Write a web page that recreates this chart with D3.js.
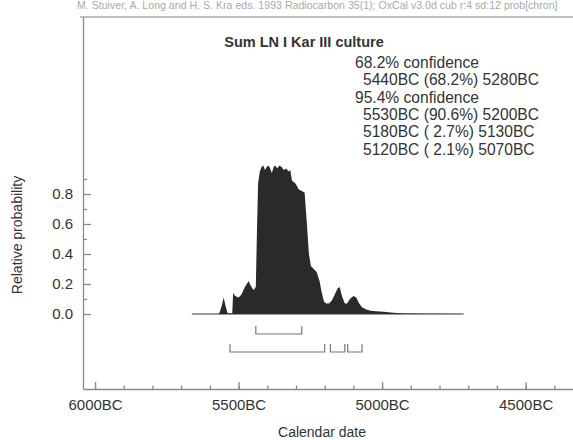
<!DOCTYPE html>
<html>
<head>
<meta charset="utf-8">
<script src="https://cdn.jsdelivr.net/npm/d3@7"></script>
<style>
  body { margin: 0; background: #fff; }
  text { font-family: "Liberation Sans", Arial, sans-serif; fill: #333; }
</style>
</head>
<body>
<div id="chart"></div>
<script>
// calendar years BC and relative probability of the summed distribution
var years = [5663, 5570, 5566, 5558, 5552, 5545, 5538, 5522, 5519, 5512, 5500, 5490, 5478, 5465, 5458,
  5448, 5440, 5436, 5432, 5426, 5420, 5414, 5408, 5402, 5396, 5390, 5384, 5378, 5372, 5365, 5358,
  5350, 5342, 5334, 5326, 5320, 5314, 5308, 5302, 5296, 5290, 5280, 5270, 5262, 5255, 5248, 5238,
  5228, 5218, 5210, 5202, 5194, 5185, 5175, 5165, 5155, 5148, 5140, 5130, 5122, 5112, 5100, 5090,
  5080, 5070, 5055, 5040, 5020, 4995, 4970, 4948, 4920, 4890, 4850, 4800, 4716];
var prob = [0, 0, 0.01, 0.06, 0.11, 0.05, 0.005, 0.005, 0.14, 0.12, 0.11, 0.13, 0.18, 0.22, 0.19,
  0.16, 0.18, 0.55, 0.87, 0.95, 0.98, 0.99, 0.96, 0.98, 0.99, 0.97, 0.94, 0.98, 0.99, 0.97, 0.99,
  0.98, 0.96, 0.97, 0.95, 0.96, 0.89, 0.88, 0.87, 0.85, 0.83, 0.82, 0.81, 0.6, 0.4, 0.32, 0.30,
  0.28, 0.22, 0.14, 0.08, 0.07, 0.07, 0.09, 0.13, 0.17, 0.18, 0.12, 0.07, 0.07, 0.10, 0.12, 0.11,
  0.07, 0.045, 0.03, 0.022, 0.018, 0.015, 0.01, 0.007, 0.004, 0.003, 0.002, 0.001, 0];

var xTicks = [6000, 5500, 5000, 4500];
var xMinorTicks = [6000, 5900, 5800, 5700, 5600, 5500, 5400, 5300, 5200, 5100, 5000, 4900, 4800, 4700, 4600, 4500, 4400];
var yTicks = [0, 0.2, 0.4, 0.6, 0.8];
var yMinorTicks = [0.1, 0.3, 0.5, 0.7, 0.9];

var range68 = [[5440, 5280]];
var range95 = [[5530, 5200], [5180, 5130], [5120, 5070]];

var title = "Sum LN I Kar III culture";
var header = "M. Stuiver, A. Long and H. S. Kra eds. 1993 Radiocarbon 35(1); OxCal v3.0d cub r:4 sd:12 prob[chron]";
var confLines = [
  { text: "68.2% confidence", indent: false },
  { text: "5440BC (68.2%) 5280BC", indent: true },
  { text: "95.4% confidence", indent: false },
  { text: "5530BC (90.6%) 5200BC", indent: true },
  { text: "5180BC ( 2.7%) 5130BC", indent: true },
  { text: "5120BC ( 2.1%) 5070BC", indent: true }
];

var W = 573, H = 440;
var axisColor = "#8a8a8a";

const svg = d3.select("#chart")
  .append("svg")
  .attr("width", W)
  .attr("height", H);

var x = d3.scaleLinear().domain([6042, 4335]).range([83, 573]);
var y = d3.scaleLinear().domain([-0.5, 1.98]).range([389, 17]);

// header line at the very top
svg.append("text")
  .attr("x", 77)
  .attr("y", 9)
  .style("font-size", "10.6px")
  .style("fill", "#aaa")
  .text(header);

// top frame line
svg.append("line")
  .attr("x1", 80).attr("x2", W)
  .attr("y1", y.range()[1]).attr("y2", y.range()[1])
  .attr("stroke", "#aaa")
  .attr("stroke-width", 1.5);

// x axis, ticks pointing inward
const xAxisG = svg.append("g")
  .attr("transform", "translate(0," + y.range()[0] + ")");
xAxisG.call(d3.axisBottom(x).tickValues(xMinorTicks).tickSizeInner(-3.5).tickSizeOuter(0).tickFormat(""));
xAxisG.append("g")
  .call(d3.axisBottom(x).tickValues(xTicks).tickSizeInner(-7).tickSizeOuter(0)
    .tickPadding(10).tickFormat(function(d) { return d + "BC"; }));
xAxisG.selectAll("g > g > path.domain").remove();

// y axis
const yAxisG = svg.append("g")
  .attr("transform", "translate(" + x.range()[0] + ",0)");
yAxisG.call(d3.axisLeft(y).tickValues(yMinorTicks).tickSizeInner(-4).tickSizeOuter(0).tickFormat(""));
yAxisG.append("g")
  .call(d3.axisLeft(y).tickValues(yTicks).tickSizeInner(-8).tickSizeOuter(0)
    .tickPadding(10).tickFormat(d3.format(".1f")));
yAxisG.selectAll("g > g > path.domain").remove();

svg.selectAll(".domain, .tick line")
  .attr("stroke", axisColor)
  .attr("stroke-width", 1.3);
svg.selectAll(".tick text")
  .style("font-size", "15px")
  .style("fill", "#333")
  .style("font-family", "Liberation Sans, Arial, sans-serif");

// axis titles
svg.append("text")
  .attr("x", 322)
  .attr("y", 437)
  .attr("text-anchor", "middle")
  .style("font-size", "14px")
  .text("Calendar date");

svg.append("text")
  .attr("transform", "translate(22,235)rotate(-90)")
  .attr("text-anchor", "middle")
  .style("font-size", "14px")
  .text("Relative probability");

// summed probability distribution
var data = years.map(function(d, i) { return { year: d, p: prob[i] }; });

svg.append("line")
  .attr("x1", x(d3.max(years))).attr("x2", x(d3.min(years)))
  .attr("y1", y(0)).attr("y2", y(0))
  .attr("stroke", "#777")
  .attr("stroke-width", 1.5);

svg.append("path")
  .datum(data)
  .attr("d", d3.area()
    .x(function(d) { return x(d.year); })
    .y0(y(0))
    .y1(function(d) { return y(d.p); }))
  .attr("fill", "#2a2a2a");

// confidence range brackets
function drawBrackets(ranges, offset) {
  var by = y(0) + offset;
  ranges.forEach(function(r) {
    svg.append("path")
      .attr("d", "M" + x(r[0]) + "," + (by - 8) + "V" + by + "H" + x(r[1]) + "V" + (by - 8))
      .attr("fill", "none")
      .attr("stroke", "#777")
      .attr("stroke-width", 1.2);
  });
}
drawBrackets(range68, 20);
drawBrackets(range95, 38);

// title and confidence text
svg.append("text")
  .attr("x", 304)
  .attr("y", 47)
  .attr("text-anchor", "middle")
  .style("font-size", "14.5px")
  .style("font-weight", "bold")
  .text(title);

svg.selectAll(".conf")
  .data(confLines)
  .enter()
  .append("text")
  .attr("class", "conf")
  .attr("x", function(d) { return d.indent ? 363 : 355; })
  .attr("y", function(d, i) { return 68 + i * 17.3; })
  .style("font-size", "15.6px")
  .style("white-space", "pre")
  .attr("xml:space", "preserve")
  .text(function(d) { return d.text; });
</script>
</body>
</html>
